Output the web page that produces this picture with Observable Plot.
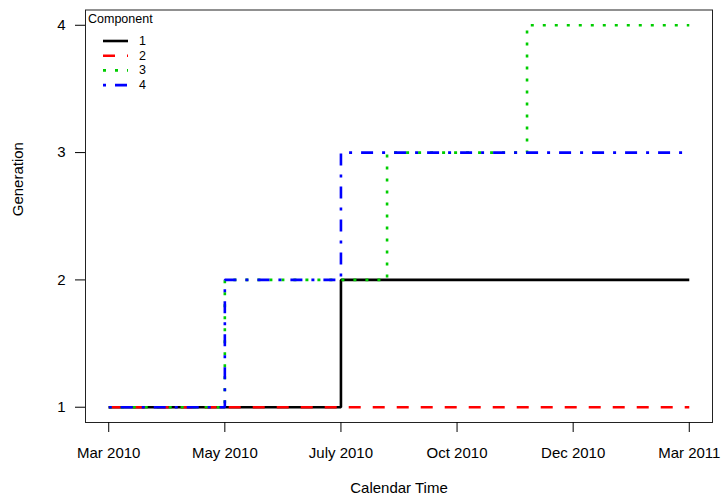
<!DOCTYPE html>
<html>
<head>
<meta charset="utf-8">
<script src="https://cdn.jsdelivr.net/npm/d3@7"></script>
<script src="https://cdn.jsdelivr.net/npm/@observablehq/plot@0.6"></script>
<style>
  html, body { margin: 0; padding: 0; background: #fff; }
  #chart { position: relative; width: 722px; height: 496px; font-family: "Liberation Sans", Arial, sans-serif; }
</style>
</head>
<body>
<div id="chart"></div>
<script>
// ---- data ----
const components = ["1", "2", "3", "4"];
const changeDays = [
  [0, 146, 365],
  [0, 365],
  [0, 73, 175, 263, 365],
  [0, 73, 146, 365]
];
const generations = [
  [1, 2, 2],
  [1, 1],
  [1, 2, 3, 4, 4],
  [1, 2, 3, 3]
];
const tickDays = [0, 73, 146, 219, 292, 365];
const tickLabels = ["Mar 2010", "May 2010", "July 2010", "Oct 2010", "Dec 2010", "Mar 2011"];
const genTicks = [1, 2, 3, 4];

// ---- styles ----
const colors = ["#000000", "#FF0000", "#00CD00", "#0000FF"];
const dashes = [null, "12,12", "3,9", "3,9,12,9"];
const lw = 2.6;

const rows = components.map((c, i) =>
  changeDays[i].map((d, j) => ({comp: c, day: d, gen: generations[i][j]}))
);

const allDays = changeDays.flat();
const xMin = d3.min(allDays), xMax = d3.max(allDays);
const xPad = (xMax - xMin) * 0.04;
const allGen = generations.flat();
const yMin = d3.min(allGen), yMax = d3.max(allGen);
const yPad = (yMax - yMin) * 0.04;

const lineMarks = rows.map((r, i) => Plot.line(r, {
  x: "day", y: "gen", curve: "step-after",
  stroke: colors[i], strokeWidth: lw,
  strokeDasharray: dashes[i] || undefined,
  strokeLinecap: "butt", strokeLinejoin: "miter"
}));

const chart = Plot.plot({
  width: 722,
  height: 496,
  marginLeft: 85,
  marginRight: 10,
  marginTop: 9.5,
  marginBottom: 74,
  style: {fontFamily: "Liberation Sans, Arial, sans-serif", fontSize: "15px", color: "black", background: "white"},
  x: {type: "linear", domain: [xMin - xPad, xMax + xPad]},
  y: {domain: [yMin - yPad, yMax + yPad]},
  marks: [
    ...lineMarks,
    Plot.frame({stroke: "#222", strokeWidth: 1}),
    Plot.axisX({
      ticks: tickDays, tickSize: 10, tickPadding: 15,
      tickFormat: d => tickLabels[tickDays.indexOf(d)],
      label: null, fontSize: 15
    }),
    Plot.axisY({
      ticks: genTicks, tickSize: 10, tickPadding: 10,
      tickFormat: d => String(d), label: null, fontSize: 15
    }),
    Plot.text(["Calendar Time"], {frameAnchor: "bottom", dy: 66, lineAnchor: "middle", fontSize: 15, text: d => d}),
    Plot.text(["Generation"], {frameAnchor: "left", dx: -67, rotate: -90, fontSize: 15, text: d => d})
  ]
});

document.getElementById("chart").appendChild(chart);

// ---- legend (inside plot, top-left) ----
const svg = d3.select(chart);
const lg = svg.append("g")
  .attr("font-family", "Liberation Sans, Arial, sans-serif")
  .attr("text-anchor", "start");
lg.append("text")
  .attr("x", 88).attr("y", 19)
  .attr("text-anchor", "start")
  .attr("dominant-baseline", "central")
  .attr("font-size", 12.5)
  .text("Component");
components.forEach((c, i) => {
  const y = 41 + i * 14.7;
  const ln = lg.append("line")
    .attr("x1", 103).attr("x2", 128).attr("y1", y).attr("y2", y)
    .attr("stroke", colors[i]).attr("stroke-width", lw)
    .attr("stroke-linecap", "butt");
  if (dashes[i]) ln.attr("stroke-dasharray", dashes[i]);
  lg.append("text")
    .attr("x", 139).attr("y", y)
    .attr("text-anchor", "start")
    .attr("dominant-baseline", "central")
    .attr("font-size", 12.5)
    .text(c);
});
</script>
</body>
</html>
